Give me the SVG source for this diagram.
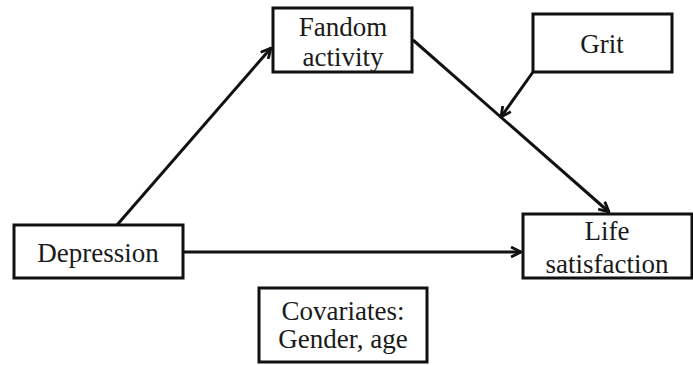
<svg xmlns="http://www.w3.org/2000/svg" width="693" height="365" viewBox="0 0 693 365">
<style>
.box{fill:#fff;stroke:#111;stroke-width:3}
.t{font-family:'Liberation Serif','DejaVu Serif',serif;font-size:27px;fill:#1a1a1a;text-anchor:middle}
.c{stroke:#111;stroke-width:3;fill:none;marker-end:url(#ah)}
</style>
<defs>
<marker id="ah" viewBox="0 0 12 12" refX="11" refY="6" markerWidth="12" markerHeight="12" markerUnits="userSpaceOnUse" orient="auto">
<path d="M1,1 L11,6 L1,11" fill="none" stroke="#111" stroke-width="2.8"/>
</marker>
</defs>
<rect width="693" height="365" fill="#fff"/>
<g id="connectors">
<line class="c" x1="117" y1="225" x2="271" y2="48"/>
<line class="c" x1="413" y1="40" x2="609" y2="212"/>
<line class="c" x1="533" y1="72" x2="501" y2="117"/>
<line class="c" x1="183" y1="252" x2="521" y2="252"/>
</g>
<g id="fandom">
<rect class="box" x="273" y="8" width="139" height="64"/>
<text class="t" x="343" y="36">Fandom</text>
<text class="t" x="343" y="66">activity</text>
</g>
<g id="grit">
<rect class="box" x="533" y="14" width="139" height="58"/>
<text class="t" x="602" y="53">Grit</text>
</g>
<g id="depression">
<rect class="box" x="14" y="225" width="169" height="53"/>
<text class="t" x="98" y="262">Depression</text>
</g>
<g id="life">
<rect class="box" x="523" y="214" width="169" height="64"/>
<text class="t" x="607" y="240">Life</text>
<text class="t" x="607" y="273">satisfaction</text>
</g>
<g id="covariates">
<rect class="box" x="259" y="288" width="168" height="74"/>
<text class="t" x="343" y="320">Covariates:</text>
<text class="t" x="343" y="348">Gender, age</text>
</g>
</svg>
